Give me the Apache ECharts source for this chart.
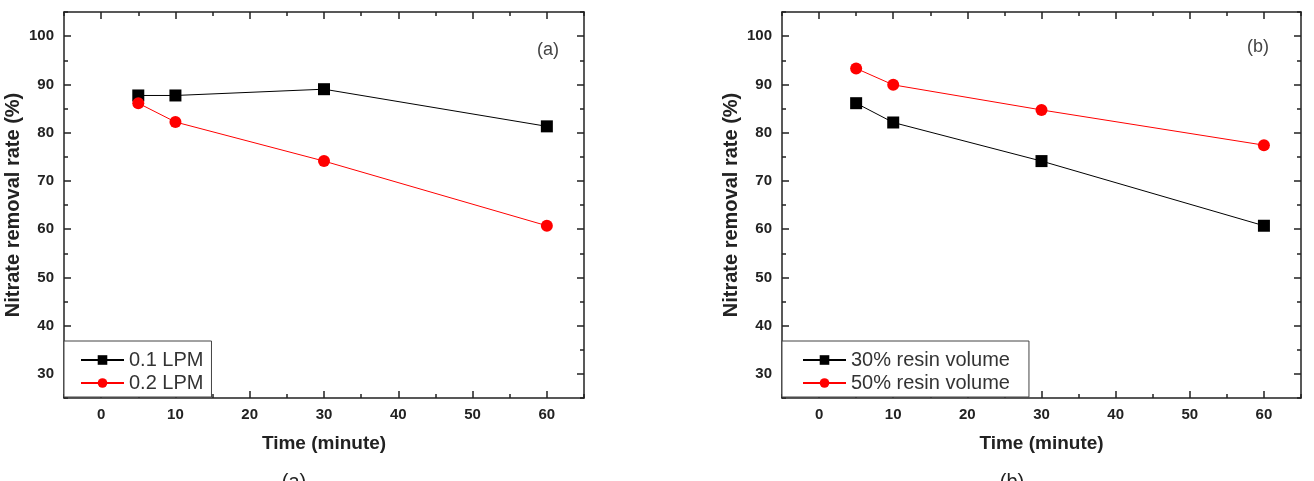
<!DOCTYPE html>
<html>
<head>
<meta charset="utf-8">
<script src="https://cdn.jsdelivr.net/npm/echarts@6/dist/echarts.min.js"></script>
<style>
html,body{margin:0;padding:0;background:#fff;}
#chart{width:1314px;height:481px;}
</style>
</head>
<body>
<div id="chart"></div>
<script>
// ---- data ----
const timeMinutes = [5, 10, 30, 60];
const lpm01 = [87.7, 87.7, 89.0, 81.3];
const lpm02 = [86.1, 82.2, 74.1, 60.7];
const resin30 = [86.1, 82.1, 74.1, 60.7];
const resin50 = [93.3, 89.9, 84.7, 77.4];
const xTickLabels = [0, 10, 20, 30, 40, 50, 60];
const yTickLabels = [30, 40, 50, 60, 70, 80, 90, 100];
const xTitle = 'Time (minute)';
const yTitle = 'Nitrate removal rate (%)';

const FONT = '"Liberation Sans", Arial, sans-serif';
const AX = '#222';

function pairs(xs, ys) { return xs.map((x, i) => [x, ys[i]]); }

const grids = [
  { left: 64, top: 12, width: 520, height: 386 },
  { left: 782, top: 12, width: 519, height: 386 }
];

const xAxes = [], yAxes = [];
grids.forEach((g, gi) => {
  const baseX = { type: 'value', gridIndex: gi, min: -5, max: 65, splitLine: { show: false } };
  const baseY = { type: 'value', gridIndex: gi, min: 25, max: 105, splitLine: { show: false } };
  const lineOn = { show: true, onZero: false, lineStyle: { color: AX, width: 1.5 } };
  const lineOff = { show: false, onZero: false };
  // x main bottom
  xAxes.push(Object.assign({}, baseX, {
    position: 'bottom', axisLine: lineOn,
    axisTick: { show: true, inside: true, length: 7, customValues: xTickLabels, lineStyle: { color: AX, width: 1.5 } },
    axisLabel: { show: true, customValues: xTickLabels, margin: 9, color: AX, fontFamily: FONT, fontWeight: 'bold', fontSize: 15 },
    name: xTitle, nameLocation: 'middle', nameGap: 36,
    nameTextStyle: { color: AX, fontFamily: FONT, fontWeight: 'bold', fontSize: 19 }
  }));
  // x minor bottom
  xAxes.push(Object.assign({}, baseX, {
    position: 'bottom', interval: 5, axisLine: lineOff,
    axisTick: { show: true, inside: true, length: 4, lineStyle: { color: AX, width: 1.5 } },
    axisLabel: { show: false }
  }));
  // x main top
  xAxes.push(Object.assign({}, baseX, {
    position: 'top', axisLine: lineOn,
    axisTick: { show: true, inside: true, length: 7, customValues: xTickLabels, lineStyle: { color: AX, width: 1.5 } },
    axisLabel: { show: false }
  }));
  // x minor top
  xAxes.push(Object.assign({}, baseX, {
    position: 'top', interval: 5, axisLine: lineOff,
    axisTick: { show: true, inside: true, length: 4, lineStyle: { color: AX, width: 1.5 } },
    axisLabel: { show: false }
  }));
  // y main left
  yAxes.push(Object.assign({}, baseY, {
    position: 'left', axisLine: lineOn,
    axisTick: { show: true, inside: true, length: 7, customValues: yTickLabels, lineStyle: { color: AX, width: 1.5 } },
    axisLabel: { show: true, customValues: yTickLabels, margin: 10, color: AX, fontFamily: FONT, fontWeight: 'bold', fontSize: 15 },
    name: yTitle, nameLocation: 'middle', nameGap: 41, nameRotate: 90,
    nameTextStyle: { color: AX, fontFamily: FONT, fontWeight: 'bold', fontSize: 20 }
  }));
  // y minor left
  yAxes.push(Object.assign({}, baseY, {
    position: 'left', interval: 5, axisLine: lineOff,
    axisTick: { show: true, inside: true, length: 4, lineStyle: { color: AX, width: 1.5 } },
    axisLabel: { show: false }
  }));
  // y main right
  yAxes.push(Object.assign({}, baseY, {
    position: 'right', axisLine: lineOn,
    axisTick: { show: true, inside: true, length: 7, customValues: yTickLabels, lineStyle: { color: AX, width: 1.5 } },
    axisLabel: { show: false }
  }));
  // y minor right
  yAxes.push(Object.assign({}, baseY, {
    position: 'right', interval: 5, axisLine: lineOff,
    axisTick: { show: true, inside: true, length: 4, lineStyle: { color: AX, width: 1.5 } },
    axisLabel: { show: false }
  }));
});

function lineSeries(name, gi, ys, color, symbol, size) {
  return {
    type: 'line', name: name, xAxisIndex: gi * 4, yAxisIndex: gi * 4,
    data: pairs(timeMinutes, ys),
    symbol: symbol, symbolSize: size,
    lineStyle: { color: color, width: 1 },
    itemStyle: { color: color },
    z: 5, animation: false
  };
}

const legendText = { color: '#333', fontFamily: FONT, fontSize: 20, lineHeight: 22 };

const option = {
  animation: false,
  grid: grids,
  xAxis: xAxes,
  yAxis: yAxes,
  legend: [
    {
      data: ['0.1 LPM', '0.2 LPM'], orient: 'vertical', left: 64, top: 341,
      padding: [8, 8, 3, 16], itemGap: 1, itemWidth: 43, itemHeight: 12,
      borderColor: '#444', borderWidth: 1, backgroundColor: '#fff',
      textStyle: legendText
    },
    {
      data: ['30% resin volume', '50% resin volume'], orient: 'vertical', left: 782, top: 341,
      padding: [8, 19, 3, 20], itemGap: 1, itemWidth: 43, itemHeight: 12,
      borderColor: '#444', borderWidth: 1, backgroundColor: '#fff',
      textStyle: legendText
    }
  ],
  title: [
    { text: '(a)', left: 548, top: 50, textAlign: 'center', textVerticalAlign: 'middle', padding: 0,
      textStyle: { color: '#444', fontFamily: FONT, fontWeight: 'normal', fontSize: 18 } },
    { text: '(b)', left: 1258, top: 47, textAlign: 'center', textVerticalAlign: 'middle', padding: 0,
      textStyle: { color: '#444', fontFamily: FONT, fontWeight: 'normal', fontSize: 18 } },
    { text: '(a)', left: 294, top: 472, textAlign: 'center', padding: 0,
      textStyle: { color: '#222', fontFamily: FONT, fontWeight: 'normal', fontSize: 20 } },
    { text: '(b)', left: 1012, top: 472, textAlign: 'center', padding: 0,
      textStyle: { color: '#222', fontFamily: FONT, fontWeight: 'normal', fontSize: 20 } }
  ],
  series: [
    lineSeries('0.1 LPM', 0, lpm01, '#000', 'rect', 12),
    lineSeries('0.2 LPM', 0, lpm02, '#ff0000', 'circle', 12),
    lineSeries('30% resin volume', 1, resin30, '#000', 'rect', 12),
    lineSeries('50% resin volume', 1, resin50, '#ff0000', 'circle', 12)
  ]
};

const chart = echarts.init(document.getElementById('chart'), null, { renderer: 'canvas' });
chart.setOption(option);
</script>
</body>
</html>
